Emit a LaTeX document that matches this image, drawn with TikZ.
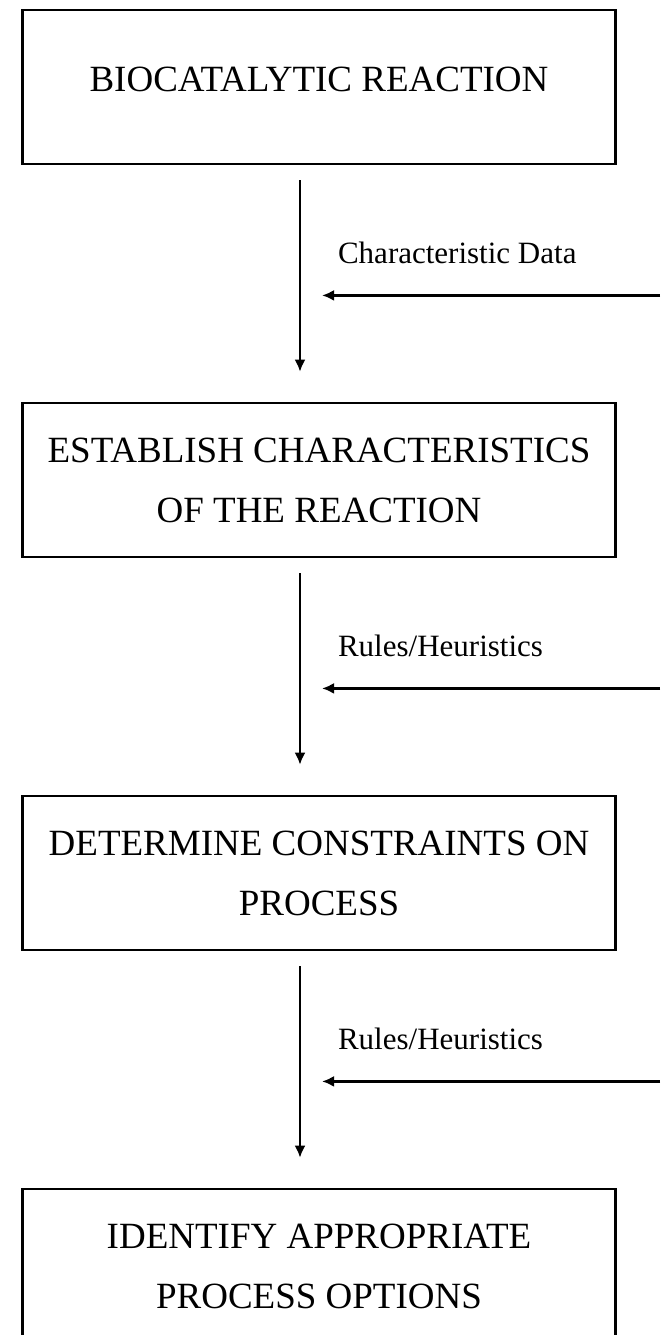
\documentclass[tikz,border=0pt]{standalone}
\usepackage{fontspec}
\setmainfont{Liberation Serif}
\usetikzlibrary{shapes, arrows, arrows.meta, positioning}

\begin{document}
\begin{tikzpicture}[node distance=196.5pt, auto, >={Latex[length=6pt,width=5.5pt]},
    stage/.style={draw, rectangle, line width=1.4pt, minimum width=296.5pt, minimum height=77pt, align=center, font=\fontsize{18.5}{30}\selectfont},
    feed/.style={anchor=west, font=\fontsize{15.5}{18}\selectfont}]

        \useasboundingbox (0,0) rectangle (330pt,-667.5pt);
        \coordinate (edge) at (330pt,0);

        \node (react) [stage, text depth=8pt] at (159.5pt,-43.5pt) {BIOCATALYTIC REACTION};
        \node (establish) [stage, below of=react] {ESTABLISH CHARACTERISTICS\\OF THE REACTION};
        \node (constrain) [stage, below of=establish] {DETERMINE CONSTRAINTS ON\\PROCESS};
        \node (identify) [stage, below of=constrain] {IDENTIFY APPROPRIATE\\PROCESS OPTIONS};

        \draw[->, line width=1pt] ([xshift=-9.5pt, yshift=-7.5pt]react.south) -- ([xshift=-9.5pt, yshift=15pt]establish.north);
        \draw[->, line width=1pt] ([xshift=-9.5pt, yshift=-7.5pt]establish.south) -- ([xshift=-9.5pt, yshift=15pt]constrain.north);
        \draw[->, line width=1pt] ([xshift=-9.5pt, yshift=-7.5pt]constrain.south) -- ([xshift=-9.5pt, yshift=15pt]identify.north);

        % inputs from the right
        \coordinate (in1) at ([yshift=-65pt]react.south);
        \coordinate (in2) at ([yshift=-65pt]establish.south);
        \coordinate (in3) at ([yshift=-65pt]constrain.south);

        \draw[->, line width=1.2pt] (in1 -| edge) -- ([xshift=1.5pt]in1);
        \draw[->, line width=1.2pt] (in2 -| edge) -- ([xshift=1.5pt]in2);
        \draw[->, line width=1.2pt] (in3 -| edge) -- ([xshift=1.5pt]in3);

        \node (chardata) [feed] at ([xshift=6pt, yshift=21.5pt]in1) {Characteristic Data};
        \node (rules1) [feed] at ([xshift=6pt, yshift=21.5pt]in2) {Rules/Heuristics};
        \node (rules2) [feed] at ([xshift=6pt, yshift=21.5pt]in3) {Rules/Heuristics};
    \end{tikzpicture}
\end{document}
